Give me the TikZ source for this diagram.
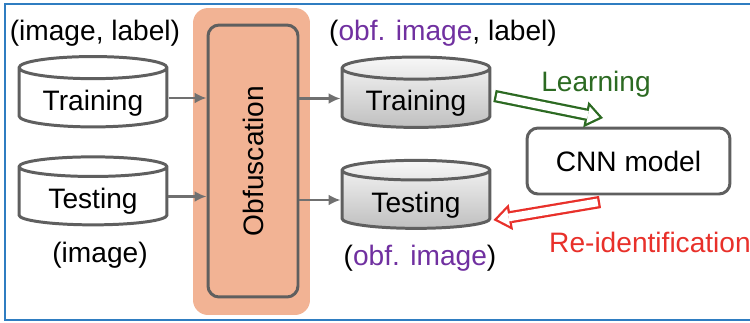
\documentclass[tikz,border=0pt]{standalone}
\usepackage{fontspec}
\setmainfont{Liberation Sans}
\usepackage{xcolor}
\usepackage{tikz}
\usetikzlibrary{shapes.geometric, arrows.meta}

\definecolor{framebl}{HTML}{2F7DC1}
\definecolor{obforange}{HTML}{F2B394}
\definecolor{boxgray}{HTML}{5F5F5F}
\definecolor{arrgray}{HTML}{707070}
\definecolor{obfpurple}{HTML}{7030A0}
\definecolor{learngreen}{HTML}{2C6A22}
\definecolor{reidred}{HTML}{E8302A}

\begin{document}
\begin{tikzpicture}[
  x=0.02cm, y=-0.02cm,
  every node/.style={font=\fontsize{16}{19}\selectfont},
  dbase/.style={cylinder, shape border rotate=90, aspect=0.22, draw=boxgray,
                line width=1.7pt, minimum width=2.96cm, minimum height=1.36cm,
                inner sep=0pt, text height=17pt},
  dplain/.style={dbase, fill=white},
  dobf/.style={dbase, top color=gray!6, bottom color=gray!50},
  rbox/.style={draw=boxgray, line width=1.7pt, rounded corners=0.22cm},
  flow/.style={draw=arrgray, line width=1.5pt, -{Latex[length=2.4mm, width=2.2mm]}},
  fat/.style={line width=7pt, -{Triangle[length=10pt, width=15pt, line width=0pt]},
              postaction={draw=white, line width=4.4pt, shorten <=1.3pt, shorten >=2.2pt,
                          -{Triangle[length=6.5pt, width=9.8pt, line width=0pt]}}},
]
  % page and frame
  \useasboundingbox (0,0) rectangle (750,322);
  \draw[framebl, line width=0.9pt] (760,4) -- (5,4) -- (5,320) -- (760,320);

  % obfuscation block
  \node[fill=obforange, rounded corners=0.3cm, minimum width=2.34cm,
        minimum height=6.14cm] (obfbg) at (251.5,161.5) {};
  \node[rbox, fill=obforange, minimum width=1.8cm, minimum height=5.44cm]
    (obf) at (253,161) {\rotatebox{90}{Obfuscation}};

  % raw data sets
  \node (rawlab) at (95,33) {(image, label)};
  \node[dplain] (trW) at (93,98) {Training};
  \node[dplain] (teW) at (93,196.5) {Testing};
  \node (imglab) at (100,255) {(image)};

  % obfuscated data sets
  \node (obflab) at (443,33) {(\textcolor{obfpurple}{obf. image}, label)};
  \node[dobf] (trO) at (416,98.5) {Training};
  \node[dobf] (teO) at (416,200) {Testing};
  \node (oimglab) at (420,258) {(\textcolor{obfpurple}{obf. image})};

  % model
  \node[rbox, minimum width=4.06cm, minimum height=1.32cm] (cnn) at (628.5,161)
    {CNN model};

  \draw[flow] (trW.east) -- (trW.east -| obf.west);
  \draw[flow] (teW.east) -- (teW.east -| obf.west);
  \draw[flow] (obf.east |- trO.west) -- (trO.west);
  \draw[flow] (obf.east |- teO.west) -- (teO.west);

  % learning / re-identification
  \coordinate (learnEnd) at (603,118);
  \coordinate (reidStart) at (600,202);
  \draw[fat, learngreen] ([shift={(3,-2.5)}]trO.east) -- (learnEnd);
  \draw[fat, reidred] (reidStart) -- ([shift={(2,20)}]teO.east);
  \node[text=learngreen] (learnlab) at (596,84) {Learning};
  \node[text=reidred, anchor=west] (reidlab) at (543,242) {Re-identification};
\end{tikzpicture}
\end{document}
